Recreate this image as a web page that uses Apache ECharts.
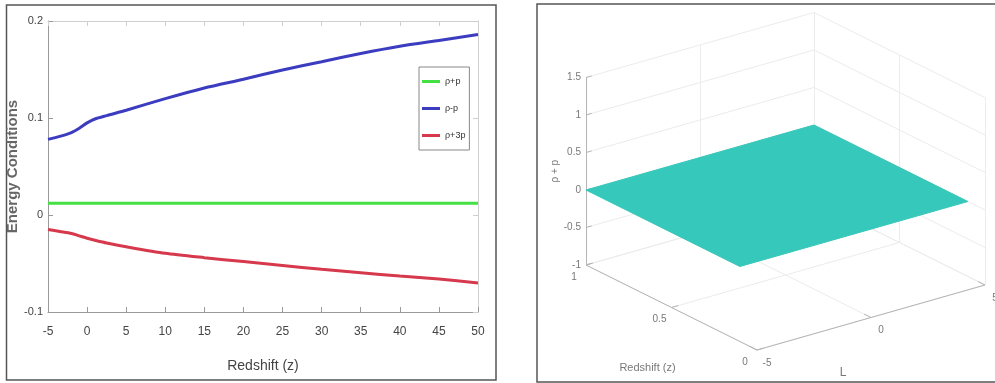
<!DOCTYPE html>
<html>
<head>
<meta charset="utf-8">
<script src="https://cdn.jsdelivr.net/npm/echarts@6/dist/echarts.min.js"></script>
<style>
  html, body { margin: 0; padding: 0; background: #fff; }
  #chart { width: 995px; height: 383px; }
</style>
</head>
<body>
<div id="chart"></div>
<script>
// ---- left panel: energy conditions vs redshift
const redshift = [-5, -3.5, -2, -1, 0, 1, 2.5, 5, 10, 15, 20, 25, 30, 35, 40, 45, 50];
const rhoPlusP = [0.012, 0.012, 0.012, 0.012, 0.012, 0.012, 0.012, 0.012, 0.012, 0.012, 0.012, 0.012, 0.012, 0.012, 0.012, 0.012, 0.012];
const rhoMinusP = [0.078, 0.081, 0.085, 0.0895, 0.095, 0.099, 0.1025, 0.108, 0.120, 0.131, 0.140, 0.1495, 0.158, 0.1665, 0.174, 0.180, 0.186];
const rhoPlus3P = [-0.015, -0.017, -0.019, -0.0215, -0.024, -0.026, -0.0288, -0.0327, -0.0395, -0.044, -0.048, -0.052, -0.056, -0.0595, -0.063, -0.066, -0.070];
const seriesNames = ['\u03c1+p', '\u03c1-p', '\u03c1+3p'];

// ---- right panel: surface of rho + p over (redshift, L)
const surfRedshift = [0.1, 0.55, 1];
const surfL = [-5, 0, 5];
const surfValue = [   // rows: redshift, cols: L
  [0, 0, 0],
  [0, 0, 0],
  [0, 0, 0]
];
const boxRedshiftTicks = [0, 0.5, 1];
const boxLTicks = [-5, 0, 5];
const boxZTicks = [-1, -0.5, 0, 0.5, 1, 1.5];

// view of the 3d box (orthographic, pixels)
const view = { ox: 586, oy: 265, rx: -171, ry: -85, lx: 22.8, ly: -6.5, zy: -75 };
function project(r, l, z) {
  return [
    view.ox + (r - 1) * view.rx + (l + 5) * view.lx,
    view.oy + (r - 1) * view.ry + (l + 5) * view.ly + (z + 1) * view.zy
  ];
}

const zMin = boxZTicks[0], zMax = boxZTicks[boxZTicks.length - 1];
const rMin = boxRedshiftTicks[0], rMax = boxRedshiftTicks[boxRedshiftTicks.length - 1];
const lMin = boxLTicks[0], lMax = boxLTicks[boxLTicks.length - 1];

// grid lines on the back walls and floor
let gridSegs = [];
boxZTicks.forEach(z => {
  gridSegs.push([project(rMax, lMin, z), project(rMax, lMax, z)]);
  gridSegs.push([project(rMax, lMax, z), project(rMin, lMax, z)]);
});
boxLTicks.forEach(l => {
  gridSegs.push([project(rMax, l, zMin), project(rMax, l, zMax)]);
  gridSegs.push([project(rMin, l, zMin), project(rMax, l, zMin)]);
});
boxRedshiftTicks.forEach(r => {
  gridSegs.push([project(r, lMax, zMin), project(r, lMax, zMax)]);
  gridSegs.push([project(r, lMin, zMin), project(r, lMax, zMin)]);
});

// axis lines and ticks
let axisSegs = [
  [project(rMax, lMin, zMin), project(rMax, lMin, zMax)],
  [project(rMax, lMin, zMin), project(rMin, lMin, zMin)],
  [project(rMin, lMin, zMin), project(rMin, lMax, zMin)]
];
boxZTicks.forEach(z => axisSegs.push([project(rMax, lMin, z), project(rMax, lMin + 0.25, z)]));
boxRedshiftTicks.forEach(r => axisSegs.push([project(r, lMin, zMin), project(r, lMin + 0.3, zMin)]));
boxLTicks.forEach(l => axisSegs.push([project(rMin, l, zMin), project(rMin + 0.04, l, zMin)]));

// tick labels of the 3d box
let boxLabels = [];
boxZTicks.forEach(z => {
  const p = project(rMax, lMin, z);
  boxLabels.push({ value: [p[0] - 5, p[1], String(z)], label: { align: 'right' } });
});
boxRedshiftTicks.forEach(r => {
  const p = project(r, lMin, zMin);
  boxLabels.push({ value: [p[0] - 12, p[1] + 12, String(r)] });
});
boxLTicks.forEach(l => {
  const p = project(rMin, l, zMin);
  boxLabels.push({ value: [p[0] + 10, p[1] + 13, String(l)] });
});
const pr = project(0.5, lMin, zMin);
boxLabels.push({ value: [pr[0] - 24, pr[1] + 60, 'Redshift (z)'], label: { fontSize: 11 } });
const pl = project(rMin, 0, zMin);
boxLabels.push({ value: [pl[0] - 28, pl[1] + 55, 'L'], label: { fontSize: 12 } });
const pz = project(rMax, lMin, 0.25);
boxLabels.push({ value: [pz[0] - 31, pz[1], '\u03c1 + p'], label: { rotate: 90, fontSize: 10 } });

// surface cells
let cells = [];
for (let i = 0; i < surfRedshift.length - 1; i++) {
  for (let j = 0; j < surfL.length - 1; j++) {
    cells.push([
      project(surfRedshift[i], surfL[j], surfValue[i][j]),
      project(surfRedshift[i], surfL[j + 1], surfValue[i][j + 1]),
      project(surfRedshift[i + 1], surfL[j + 1], surfValue[i + 1][j + 1]),
      project(surfRedshift[i + 1], surfL[j], surfValue[i + 1][j])
    ]);
  }
}

const tickFont = { fontFamily: 'Liberation Sans, Arial, sans-serif', fontSize: 12, color: '#444' };
const axisGray = '#9a9a9a';
const colors = ['#44e044', '#3c3cc0', '#d6384c'];
const values = [rhoPlusP, rhoMinusP, rhoPlus3P];

const chart = echarts.init(document.getElementById('chart'), null, { renderer: 'canvas' });
chart.setOption({
  animation: false,
  backgroundColor: '#fff',
  grid: [
    { left: 48, top: 21, width: 430, height: 291, outerBoundsMode: 'none' },
    { left: 0, top: 0, width: 995, height: 383, outerBoundsMode: 'none' }
  ],
  legend: {
    left: 419, top: 67,
    orient: 'vertical',
    data: seriesNames,
    icon: 'rect',
    backgroundColor: '#fff',
    borderColor: '#888', borderWidth: 1, borderRadius: 0,
    padding: [10, 4, 10, 3],
    itemWidth: 18, itemHeight: 3, itemGap: 18,
    textStyle: { fontFamily: 'Liberation Sans, Arial, sans-serif', fontSize: 9, color: '#333' }
  },
  xAxis: [
    {
      gridIndex: 0, type: 'value', min: -5, max: 50, interval: 5,
      name: 'Redshift (z)', nameLocation: 'middle', nameGap: 47,
      nameTextStyle: { fontFamily: 'Liberation Sans, Arial, sans-serif', fontSize: 14, color: '#444' },
      axisLine: { onZero: false, lineStyle: { color: axisGray } },
      axisTick: { inside: true, length: 5, lineStyle: { color: axisGray } },
      axisLabel: Object.assign({ margin: 14 }, tickFont),
      splitLine: { show: false }
    },
    {
      gridIndex: 0, type: 'value', min: -5, max: 50, interval: 5, position: 'top',
      axisLine: { onZero: false, lineStyle: { color: '#cfcfcf' } },
      axisTick: { inside: true, length: 5, lineStyle: { color: '#cfcfcf' } },
      axisLabel: { show: false }, splitLine: { show: false }
    },
    { gridIndex: 1, type: 'value', min: 0, max: 995, show: false }
  ],
  yAxis: [
    {
      gridIndex: 0, type: 'value', min: -0.1, max: 0.2, interval: 0.1,
      name: 'Energy Conditions', nameLocation: 'middle', nameGap: 23, nameRotate: 90,
      nameTextStyle: { fontFamily: 'Liberation Sans, Arial, sans-serif', fontSize: 15, fontWeight: 'bold', color: '#666' },
      axisLine: { onZero: false, lineStyle: { color: axisGray } },
      axisTick: { inside: true, length: 5, lineStyle: { color: axisGray } },
      axisLabel: Object.assign({ margin: 5, formatter: v => String(Math.round(v * 10) / 10) }, tickFont, { fontSize: 11 }),
      splitLine: { show: false }
    },
    {
      gridIndex: 0, type: 'value', min: -0.1, max: 0.2, interval: 0.1, position: 'right',
      axisLine: { onZero: false, lineStyle: { color: '#cfcfcf' } },
      axisTick: { inside: true, length: 5, lineStyle: { color: '#cfcfcf' } },
      axisLabel: { show: false }, splitLine: { show: false }
    },
    { gridIndex: 1, type: 'value', min: 0, max: 383, inverse: true, show: false }
  ],
  series: seriesNames.map((name, k) => ({
    name: name, type: 'line', xAxisIndex: 0, yAxisIndex: 0,
    symbol: 'none', smooth: 0.25,
    lineStyle: { color: colors[k], width: 3 }, itemStyle: { color: colors[k] },
    data: redshift.map((x, i) => [x, values[k][i]])
  })).concat([
    {
      type: 'lines', coordinateSystem: 'cartesian2d', xAxisIndex: 2, yAxisIndex: 2,
      silent: true, z: 1,
      lineStyle: { color: '#ececec', width: 1, opacity: 1 },
      data: gridSegs.map(s => ({ coords: s }))
    },
    {
      type: 'lines', coordinateSystem: 'cartesian2d', xAxisIndex: 2, yAxisIndex: 2,
      silent: true, z: 2,
      lineStyle: { color: '#b5b5b5', width: 1, opacity: 1 },
      data: axisSegs.map(s => ({ coords: s }))
    },
    {
      type: 'custom', xAxisIndex: 2, yAxisIndex: 2, z: 3, silent: true,
      data: cells.map((c, i) => i),
      renderItem: (params, api) => {
        const cell = cells[params.dataIndex];
        return {
          type: 'polygon',
          shape: { points: cell.map(p => api.coord(p)) },
          style: { fill: '#36c8ba', stroke: '#36c8ba', lineWidth: 1 }
        };
      }
    },
    {
      type: 'scatter', xAxisIndex: 2, yAxisIndex: 2, symbolSize: 0, silent: true, z: 4,
      label: {
        show: true, position: 'inside', formatter: p => p.value[2],
        fontFamily: 'Liberation Sans, Arial, sans-serif', fontSize: 10, color: '#555'
      },
      data: boxLabels
    }
  ]),
  graphic: [
    { type: 'rect', shape: { x: 6.5, y: 5, width: 489.5, height: 375 }, style: { fill: 'none', stroke: '#555', lineWidth: 1.5 }, silent: true },
    { type: 'rect', shape: { x: 537, y: 4, width: 470, height: 378 }, style: { fill: 'none', stroke: '#555', lineWidth: 1.5 }, silent: true }
  ]
});
</script>
</body>
</html>
